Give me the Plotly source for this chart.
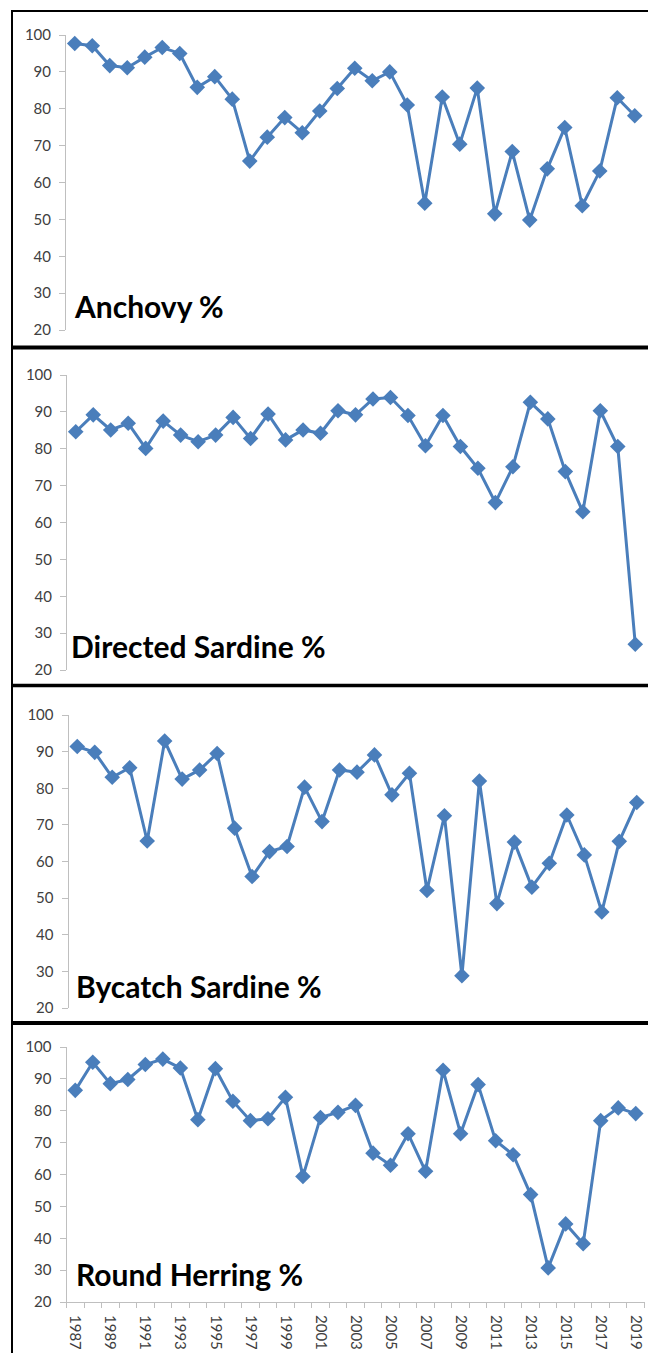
import plotly.graph_objects as go

# page has an 8px default body margin, so the figure is drawn 8px in from the corner
OFF = 8
W, H = 656 - OFF, 1353 - OFF

years = list(range(1987, 2020))
tick_years = [y for y in years if y % 2 == 1]
tick_labels = [str(y) for y in tick_years]

anchovy = [97.7, 97.1, 91.7, 91.1, 94.0, 96.6, 95.0, 85.8, 88.7, 82.6, 65.8, 72.3, 77.6,
           73.5, 79.4, 85.5, 91.0, 87.6, 90.0, 81.0, 54.4, 83.2, 70.4, 85.6, 51.5, 68.4,
           49.8, 63.7, 74.9, 53.7, 63.1, 83.0, 78.1]
directed_sardine = [84.6, 89.2, 85.1, 86.9, 80.1, 87.5, 83.7, 81.9, 83.7, 88.5, 82.8, 89.4,
                    82.4, 85.1, 84.2, 90.3, 89.2, 93.5, 93.9, 89.0, 80.8, 89.0, 80.6, 74.7,
                    65.4, 75.1, 92.6, 88.1, 73.8, 62.9, 90.3, 80.6, 27.0]
bycatch_sardine = [91.4, 89.8, 83.0, 85.6, 65.6, 92.9, 82.5, 85.0, 89.5, 69.1, 55.9, 62.7,
                   64.1, 80.3, 70.9, 85.0, 84.4, 89.1, 78.2, 84.1, 52.1, 72.5, 28.8, 82.0,
                   48.5, 65.3, 53.0, 59.5, 72.7, 61.8, 46.2, 65.5, 76.1]
round_herring = [86.4, 95.2, 88.5, 89.8, 94.5, 96.2, 93.4, 77.2, 93.2, 83.0, 76.9, 77.5,
                 84.2, 59.4, 77.9, 79.5, 81.7, 66.7, 62.9, 72.8, 61.0, 92.7, 72.8, 88.2,
                 70.6, 66.2, 53.7, 30.7, 44.5, 38.3, 76.9, 80.9, 79.1]

series = [anchovy, directed_sardine, bycatch_sardine, round_herring]
titles = ["Anchovy %", "Directed Sardine %", "Bycatch Sardine %", "Round Herring %"]

# page-pixel layout per panel: (x_left, x_right, y_of_100, y_of_20, title_x, title_ymid)
panels = [
    (66.0, 643.5, 35, 330, 72, 306),
    (67.0, 644.0, 375, 670, 69, 646),
    (68.5, 645.5, 715, 1008, 74, 986),
    (66.5, 644.5, 1047, 1302, 74, 1274),
]

def px_x(v):
    return (v - OFF) / W

def px_y(v):
    return 1 - (v - OFF) / H

BLUE = "#4A7EBB"
TICKCOL = "#404040"
AXCOL = "#BFBFBF"
FONT = "Lato"

fig = go.Figure()
layout = dict(
    width=W, height=H,
    margin=dict(l=0, r=0, t=0, b=0, pad=0),
    paper_bgcolor="white", plot_bgcolor="white",
    showlegend=False,
)

annotations = []
for i, (vals, title, p) in enumerate(zip(series, titles, panels)):
    n = i + 1
    xl, xr, y100, y20, tx, ty = p
    xa = "x" if n == 1 else f"x{n}"
    ya = "y" if n == 1 else f"y{n}"
    fig.add_trace(go.Scatter(
        x=years, y=vals, xaxis=xa, yaxis=ya, mode="lines+markers",
        line=dict(color=BLUE, width=3),
        marker=dict(symbol="diamond", size=12, color=BLUE),
        cliponaxis=False,
    ))
    xkey = "xaxis" if n == 1 else f"xaxis{n}"
    ykey = "yaxis" if n == 1 else f"yaxis{n}"
    xdict = dict(
        domain=[px_x(xl), px_x(xr)], range=[1986.5, 2019.5], anchor=ya,
        showgrid=False, zeroline=False, fixedrange=True, automargin=False,
    )
    if n == 4:
        xdict.update(
            showline=True, linecolor=AXCOL, linewidth=1,
            tickmode="array", tickvals=tick_years, ticktext=tick_labels,
            tickangle=90, ticks="", ticklabelstandoff=9,
            tickfont=dict(family=FONT, size=15, color=TICKCOL),
            minor=dict(tickmode="array", tickvals=[y - 0.5 for y in years] + [2019.5],
                       ticks="outside", ticklen=5, tickcolor=AXCOL, tickwidth=1,
                       showgrid=False),
        )
    else:
        xdict.update(visible=False)
    layout[xkey] = xdict
    layout[ykey] = dict(
        domain=[px_y(y20), px_y(y100)], range=[20, 100], anchor=xa,
        tickmode="linear", tick0=20, dtick=10,
        showline=True, linecolor=AXCOL, linewidth=1,
        ticks="outside", ticklen=6, tickcolor=AXCOL,
        showgrid=False, zeroline=False, automargin=False,
        tickfont=dict(family=FONT, size=15, color=TICKCOL),
        ticklabelstandoff=5,
    )
    annotations.append(dict(
        text=title, x=px_x(tx), y=px_y(ty), xref="paper", yref="paper",
        xanchor="left", yanchor="middle", showarrow=False,
        font=dict(family=FONT, size=30, color="black", weight="bold"),
    ))

shapes = []
# left border and top border
shapes.append(dict(type="line", xref="paper", yref="paper",
                   x0=px_x(12), x1=px_x(12), y0=px_y(10), y1=0,
                   line=dict(color="black", width=2)))
shapes.append(dict(type="line", xref="paper", yref="paper",
                   x0=px_x(11), x1=1, y0=px_y(11), y1=px_y(11),
                   line=dict(color="black", width=2)))
for yy, wdt in [(347.5, 4), (685.5, 3.5), (1023, 4)]:
    shapes.append(dict(type="line", xref="paper", yref="paper",
                       x0=px_x(11), x1=1, y0=px_y(yy), y1=px_y(yy),
                       line=dict(color="black", width=wdt)))

layout["annotations"] = annotations
layout["shapes"] = shapes
fig.update_layout(**layout)
fig.write_html("out.html", config={"displayModeBar": False})
